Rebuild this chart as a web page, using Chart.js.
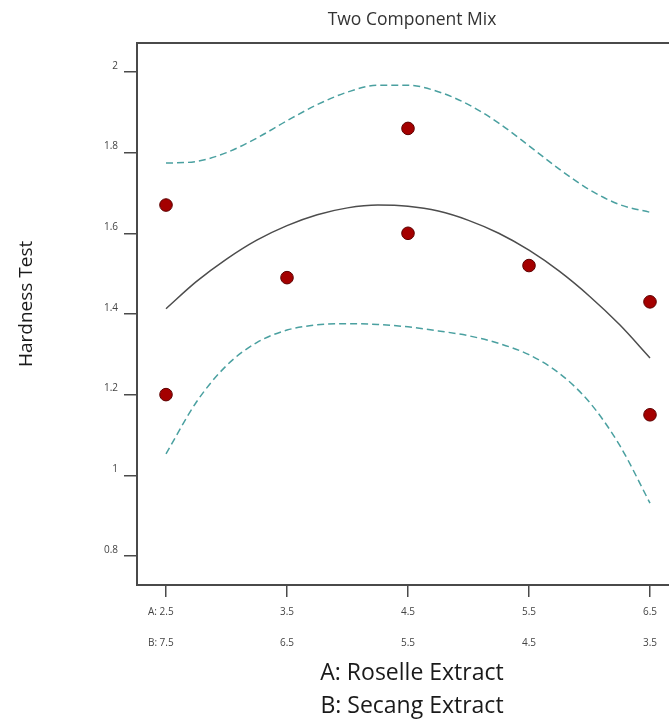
<!DOCTYPE html>
<html><head><meta charset="utf-8">
<script src="https://cdn.jsdelivr.net/npm/chart.js@4"></script>
<style>
html,body{margin:0;padding:0;background:#fff;overflow:hidden}
#wrap{width:669px;height:719px;overflow:hidden;position:relative;background:#fff}
canvas{display:block}
</style></head>
<body><div id="wrap"><canvas id="c" width="720" height="719"></canvas></div>
<script>
const chartTitle = "Two Component Mix";
const xTitle = ["A: Roselle Extract", "B: Secang Extract"];
const yTitle = "Hardness Test";
const tickA = [2.5, 3.5, 4.5, 5.5, 6.5];
const tickB = [7.5, 6.5, 5.5, 4.5, 3.5];
const yTicks = [0.8, 1, 1.2, 1.4, 1.6, 1.8, 2];
const pointA = [2.5, 2.5, 3.5, 4.5, 4.5, 5.5, 6.5, 6.5];
const pointHardness = [1.67, 1.20, 1.49, 1.86, 1.60, 1.52, 1.43, 1.15];
const curveA = [2.5, 2.75, 3, 3.25, 3.5, 3.75, 4, 4.25, 4.5, 4.75, 5, 5.25, 5.5, 5.75, 6, 6.25, 6.5];
const fitHardness = [1.413, 1.480, 1.536, 1.583, 1.619, 1.646, 1.663, 1.670, 1.667, 1.655, 1.632, 1.600, 1.558, 1.506, 1.444, 1.373, 1.291];
const upperCI = [1.774, 1.778, 1.800, 1.836, 1.879, 1.919, 1.950, 1.967, 1.967, 1.951, 1.919, 1.873, 1.817, 1.759, 1.708, 1.671, 1.652];
const lowerCI = [1.053, 1.181, 1.272, 1.329, 1.360, 1.373, 1.376, 1.374, 1.368, 1.358, 1.346, 1.327, 1.299, 1.253, 1.181, 1.074, 0.931];

Chart.defaults.font.family = "'Open Sans', 'Noto Sans', sans-serif";

const pts = pointA.map((a, i) => ({x: a, y: pointHardness[i]}));
const toXY = arr => curveA.map((a, i) => ({x: a, y: arr[i]}));

const X_MIN = 2.2603, X_MAX = 6.8058;
const axisColor = '#4a4a4a';

new Chart(document.getElementById('c'), {
  type: 'scatter',
  data: {
    datasets: [
      {type: 'scatter', data: pts, pointRadius: 6.3, pointHoverRadius: 6.3,
       backgroundColor: '#a40000', borderColor: '#5c0000', borderWidth: 1, order: 0},
      {type: 'line', data: toXY(fitHardness), showLine: true, pointRadius: 0,
       borderColor: '#4d4d4d', borderWidth: 1.5, cubicInterpolationMode: 'monotone', fill: false, order: 1},
      {type: 'line', data: toXY(upperCI), showLine: true, pointRadius: 0,
       borderColor: '#4aa0a0', borderWidth: 1.5, borderDash: [7, 4], cubicInterpolationMode: 'monotone', fill: false, order: 1},
      {type: 'line', data: toXY(lowerCI), showLine: true, pointRadius: 0,
       borderColor: '#4aa0a0', borderWidth: 1.5, borderDash: [7, 4], cubicInterpolationMode: 'monotone', fill: false, order: 1}
    ]
  },
  options: {
    responsive: false,
    animation: false,
    devicePixelRatio: 1,
    layout: {padding: {left: 0, top: 0, right: 33, bottom: 0}},
    plugins: {legend: {display: false}, tooltip: {enabled: false}, title: {display: false}},
    scales: {
      x: {
        type: 'linear', position: 'bottom', min: X_MIN, max: X_MAX,
        afterBuildTicks: s => { s.ticks = tickA.map(v => ({value: v})); },
        afterFit: s => { s.height = 134; },
        grid: {display: true, drawOnChartArea: false, drawTicks: true, tickLength: 12, color: axisColor, lineWidth: 1.5},
        border: {display: true, color: axisColor, width: 2},
        ticks: {
          autoSkip: false, maxRotation: 0, minRotation: 0, padding: 0, color: '#444',
          font: {size: 10, lineHeight: '31px'},
          callback: (v, i) => i === 0 ? ['A: ' + tickA[i] + '    ', 'B: ' + tickB[i] + '    '] : [String(tickA[i]), String(tickB[i])]
        },
        title: {display: true, text: xTitle, color: '#1a1a1a', font: {size: 23, lineHeight: '33px'}, padding: {top: 0, bottom: -3.5}}
      },
      x2: {
        type: 'linear', position: 'top', min: X_MIN, max: X_MAX, display: true,
        afterFit: s => { s.height = 42.5; },
        grid: {display: true, drawOnChartArea: false, drawTicks: false},
        border: {display: true, color: axisColor, width: 2},
        ticks: {display: false},
        title: {display: true, text: chartTitle, color: '#333', font: {size: 17.5, lineHeight: '20px'}, padding: {top: 10.5, bottom: 0}}
      },
      y: {
        type: 'linear', position: 'left', min: 0.728, max: 2.073,
        afterBuildTicks: s => { s.ticks = yTicks.map(v => ({value: v})); },
        afterFit: s => { s.width = 137; },
        grid: {display: true, drawOnChartArea: false, drawTicks: true, tickLength: 13, color: axisColor, lineWidth: 1.5},
        border: {display: true, color: axisColor, width: 2},
        ticks: {padding: 6, color: '#444', font: {size: 10}, labelOffset: -6, callback: v => String(v)},
        title: {display: true, text: '    ' + yTitle, color: '#1a1a1a', font: {size: 19, lineHeight: '23px'}, padding: {top: 15.5, bottom: 0}}
      }
    }
  }
});
</script>
</body></html>
